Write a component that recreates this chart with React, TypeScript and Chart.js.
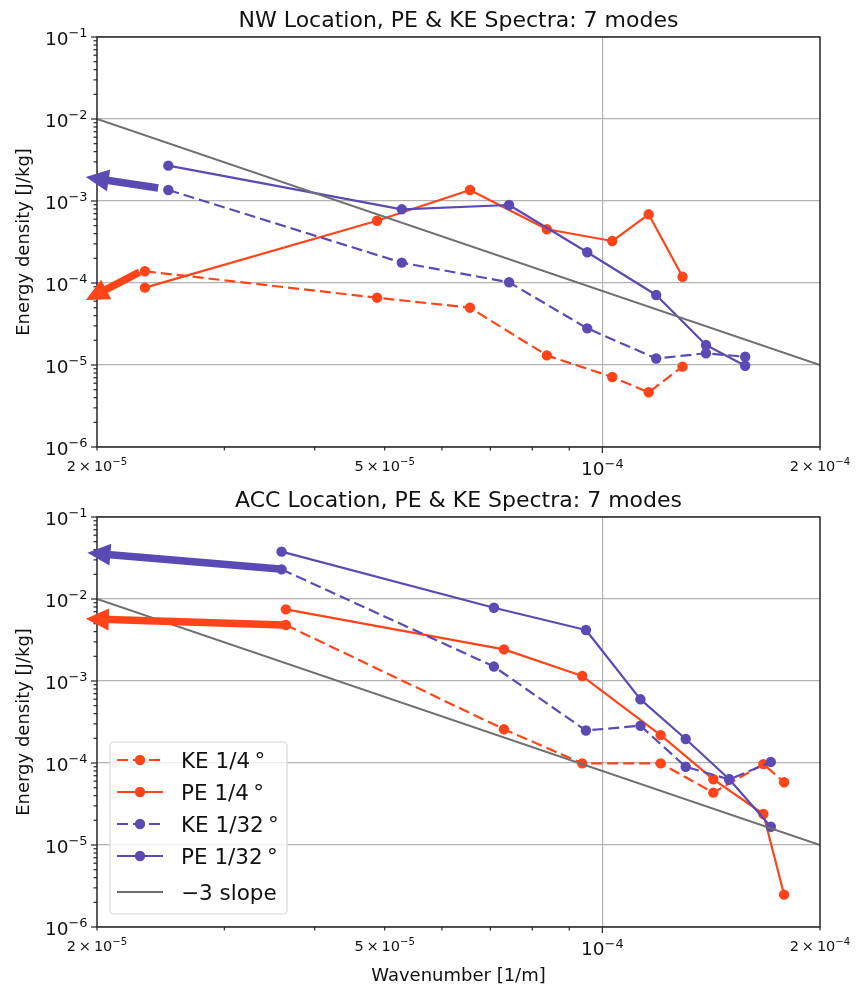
import React, { useEffect, useRef } from 'react';
import { Chart, registerables } from 'chart.js';
Chart.register(...registerables);

const FONT = '"DejaVu Sans", "Liberation Sans", sans-serif';
const ORANGE = '#FF4419';
const PURPLE = '#5A4AB4';
const GRAY = '#6F6F6F';

// ---- tick definitions ----
const xTickValues = [2e-5, 3e-5, 4e-5, 5e-5, 6e-5, 7e-5, 8e-5, 9e-5, 1e-4, 2e-4];
const xMajorTicks = [1e-4];
const xLabelValues = [2e-5, 5e-5, 1e-4, 2e-4];
const xLabelBases = ['2\u2009×\u200910', '5\u2009×\u200910', '10', '2\u2009×\u200910'];
const xLabelExps = ['−5', '−5', '−4', '−4'];
const xLabelMajor = [false, false, true, false];
const yMajorTicks = [1e-6, 1e-5, 1e-4, 1e-3, 1e-2, 1e-1];
const yLabelBases = ['10', '10', '10', '10', '10', '10'];
const yLabelExps = ['−6', '−5', '−4', '−3', '−2', '−1'];
const yMinorMultipliers = [2, 3, 4, 5, 6, 7, 8, 9];

// ---- legend labels ----
const seriesLabels = ['KE 1/4\u2009°', 'PE 1/4\u2009°', 'KE 1/32\u2009°', 'PE 1/32\u2009°', '−3 slope'];

// ---- -3 slope reference ----
const slopeX = [2e-5, 2e-4];
const slopeY = [1e-2, 1e-5];

// ---- NW location ----
const nwX14 = [2.33e-5, 4.88e-5, 6.56e-5, 8.38e-5, 1.032e-4, 1.159e-4, 1.291e-4];
const nwKE14 = [1.39e-4, 6.62e-5, 5.0e-5, 1.31e-5, 7.14e-6, 4.65e-6, 9.55e-6];
const nwPE14 = [8.77e-5, 5.75e-4, 1.36e-3, 4.52e-4, 3.25e-4, 6.88e-4, 1.19e-4];
const nwX132 = [2.51e-5, 5.28e-5, 7.43e-5, 9.53e-5, 1.187e-4, 1.391e-4, 1.576e-4];
const nwKE132 = [1.36e-3, 1.77e-4, 1.02e-4, 2.8e-5, 1.2e-5, 1.39e-5, 1.26e-5];
const nwPE132 = [2.7e-3, 7.92e-4, 8.94e-4, 2.37e-4, 7.14e-5, 1.75e-5, 9.8e-6];
const nwArrowTails = [[2.43e-5, 1.44e-3], [2.29e-5, 1.36e-4]];
const nwArrowTips = [[1.93e-5, 1.96e-3], [1.93e-5, 6.2e-5]];

// ---- ACC location ----
const accX14 = [3.65e-5, 7.31e-5, 9.38e-5, 1.204e-4, 1.424e-4, 1.67e-4, 1.784e-4];
const accKE14 = [4.82e-3, 2.58e-4, 9.9e-5, 9.9e-5, 4.35e-5, 9.7e-5, 5.82e-5];
const accPE14 = [7.48e-3, 2.43e-3, 1.15e-3, 2.19e-4, 6.33e-5, 2.39e-5, 2.48e-6];
const accX132 = [3.6e-5, 7.08e-5, 9.49e-5, 1.129e-4, 1.304e-4, 1.498e-4, 1.71e-4];
const accKE132 = [2.3e-2, 1.5e-3, 2.49e-4, 2.85e-4, 9.0e-5, 6.3e-5, 1.03e-4];
const accPE132 = [3.78e-2, 7.83e-3, 4.19e-3, 5.98e-4, 1.96e-4, 6.33e-5, 1.67e-5];
const accArrowTails = [[3.58e-5, 2.32e-2], [3.62e-5, 4.82e-3]];
const accArrowTips = [[1.94e-5, 3.67e-2], [1.93e-5, 5.75e-3]];

const arrowColors = [PURPLE, ORANGE];

const SUP = 0.4;

function pts(xs: number[], ys: number[]) {
  return xs.map((x, i) => ({ x, y: ys[i] }));
}

function series(label: string, data: any[], color: string, dashed: boolean, order: number) {
  return {
    label,
    data,
    borderColor: color,
    backgroundColor: color,
    borderWidth: 2.2,
    borderDash: dashed ? [11, 5] : [],
    borderJoinStyle: 'round',
    pointRadius: 5.2,
    pointHoverRadius: 5.2,
    pointBackgroundColor: color,
    pointBorderWidth: 0,
    tension: 0,
    order,
  };
}

function drawSci(ctx: CanvasRenderingContext2D, base: string, exp: string, x: number, y: number, size: number, align: string) {
  ctx.font = `${size}px ${FONT}`;
  const w1 = ctx.measureText(base).width;
  const ss = size * 0.7;
  ctx.font = `${ss}px ${FONT}`;
  const w2 = ctx.measureText(exp).width;
  const total = w1 + w2;
  const x0 = align === 'right' ? x - total : x - total / 2;
  ctx.textAlign = 'left';
  ctx.textBaseline = 'alphabetic';
  ctx.fillStyle = '#111';
  ctx.font = `${size}px ${FONT}`;
  ctx.fillText(base, x0, y);
  ctx.font = `${ss}px ${FONT}`;
  ctx.fillText(exp, x0 + w1, y - size * SUP);
}

function drawArrow(ctx: CanvasRenderingContext2D, x0: number, y0: number, x1: number, y1: number, color: string) {
  const dx = x1 - x0, dy = y1 - y0;
  const L = Math.hypot(dx, dy);
  const ux = dx / L, uy = dy / L;
  const nx = -uy, ny = ux;
  const w = 7.5, hw = 22, hl = 23;
  const bx = x1 - ux * hl, by = y1 - uy * hl;
  ctx.beginPath();
  ctx.moveTo(x0 + nx * w / 2, y0 + ny * w / 2);
  ctx.lineTo(bx + nx * w / 2, by + ny * w / 2);
  ctx.lineTo(bx + nx * hw / 2, by + ny * hw / 2);
  ctx.lineTo(x1, y1);
  ctx.lineTo(bx - nx * hw / 2, by - ny * hw / 2);
  ctx.lineTo(bx - nx * w / 2, by - ny * w / 2);
  ctx.lineTo(x0 - nx * w / 2, y0 - ny * w / 2);
  ctx.closePath();
  ctx.fillStyle = color;
  ctx.fill();
}

function makeDecor(opts: { title: string; tails: number[][]; tips: number[][]; legend: boolean; xTitle: boolean }) {
  return {
    id: 'decor',
    afterDraw(chart: any) {
      const ctx: CanvasRenderingContext2D = chart.ctx;
      const a = chart.chartArea;
      const xs = chart.scales.x;
      const ys = chart.scales.y;
      ctx.save();
      // frame
      ctx.strokeStyle = '#262626';
      ctx.lineWidth = 1.5;
      ctx.strokeRect(a.left, a.top, a.right - a.left, a.bottom - a.top);
      // ticks
      ctx.lineWidth = 1.2;
      for (const t of ys.ticks) {
        const py = ys.getPixelForValue(t.value);
        const len = t.major ? 6 : 3.5;
        ctx.beginPath();
        ctx.moveTo(a.left - len, py);
        ctx.lineTo(a.left, py);
        ctx.stroke();
      }
      for (const t of xs.ticks) {
        const px = xs.getPixelForValue(t.value);
        const len = t.major ? 6 : 3.5;
        ctx.beginPath();
        ctx.moveTo(px, a.bottom);
        ctx.lineTo(px, a.bottom + len);
        ctx.stroke();
      }
      // y labels
      yMajorTicks.forEach((v, i) => {
        const py = ys.getPixelForValue(v);
        drawSci(ctx, yLabelBases[i], yLabelExps[i], a.left - 9.5, py + 7.5, 18.5, 'right');
      });
      // x labels
      xLabelValues.forEach((v, i) => {
        const px = xs.getPixelForValue(v);
        if (xLabelMajor[i]) drawSci(ctx, xLabelBases[i], xLabelExps[i], px, a.bottom + 28, 18.5, 'center');
        else drawSci(ctx, xLabelBases[i], xLabelExps[i], px, a.bottom + 24, 14.5, 'center');
      });
      // title
      ctx.fillStyle = '#111';
      ctx.font = `22px ${FONT}`;
      ctx.textAlign = 'center';
      ctx.textBaseline = 'alphabetic';
      ctx.fillText(opts.title, (a.left + a.right) / 2, a.top - 10.5);
      // y axis title
      ctx.save();
      ctx.translate(24, (a.top + a.bottom) / 2);
      ctx.rotate(-Math.PI / 2);
      ctx.font = `18px ${FONT}`;
      ctx.textAlign = 'center';
      ctx.textBaseline = 'middle';
      ctx.fillText('Energy density [J/kg]', 0, 0);
      ctx.restore();
      if (opts.xTitle) {
        ctx.font = `18px ${FONT}`;
        ctx.textAlign = 'center';
        ctx.textBaseline = 'alphabetic';
        ctx.fillText('Wavenumber [1/m]', (a.left + a.right) / 2, a.bottom + 54);
      }
      // arrows
      opts.tails.forEach((t, i) => {
        const tip = opts.tips[i];
        drawArrow(ctx, xs.getPixelForValue(t[0]), ys.getPixelForValue(t[1]), xs.getPixelForValue(tip[0]), ys.getPixelForValue(tip[1]), arrowColors[i]);
      });
      // legend
      if (opts.legend) {
        const bw = 177, bh = 172;
        const bx = a.left + 13, by = a.bottom - 13 - bh;
        ctx.beginPath();
        const r = 4;
        ctx.moveTo(bx + r, by);
        ctx.arcTo(bx + bw, by, bx + bw, by + bh, r);
        ctx.arcTo(bx + bw, by + bh, bx, by + bh, r);
        ctx.arcTo(bx, by + bh, bx, by, r);
        ctx.arcTo(bx, by, bx + bw, by, r);
        ctx.closePath();
        ctx.fillStyle = 'rgba(255,255,255,0.8)';
        ctx.fill();
        ctx.strokeStyle = '#d6d6d6';
        ctx.lineWidth = 1.2;
        ctx.stroke();
        const rows = [18, 50, 82, 114, 150];
        const dsList = chart.data.datasets;
        dsList.forEach((ds: any, i: number) => {
          const cy = by + rows[i];
          ctx.strokeStyle = ds.borderColor;
          ctx.lineWidth = 2.2;
          ctx.setLineDash(ds.borderDash || []);
          ctx.beginPath();
          ctx.moveTo(bx + 7, cy);
          ctx.lineTo(bx + 53, cy);
          ctx.stroke();
          ctx.setLineDash([]);
          if (ds.pointRadius > 0) {
            ctx.beginPath();
            ctx.arc(bx + 30, cy, 5.2, 0, Math.PI * 2);
            ctx.fillStyle = ds.borderColor;
            ctx.fill();
          }
          ctx.fillStyle = '#111';
          ctx.font = `21.5px ${FONT}`;
          ctx.textAlign = 'left';
          ctx.textBaseline = 'alphabetic';
          ctx.fillText(ds.label, bx + 71, cy + 7.8);
        });
      }
      ctx.restore();
    },
  };
}

function buildConfig(o: {
  x14: number[]; ke14: number[]; pe14: number[]; x132: number[]; ke132: number[]; pe132: number[];
  title: string; tails: number[][]; tips: number[][]; legend: boolean; xTitle: boolean;
  top: number; xAxisH: number;
}) {
  const yTicks: any[] = [];
  yMajorTicks.forEach((v, i) => {
    yTicks.push({ value: v, major: true });
    if (i < yMajorTicks.length - 1) yMinorMultipliers.forEach((k) => yTicks.push({ value: k * v, major: false }));
  });
  const xTicks = xTickValues.map((v) => ({ value: v, major: xMajorTicks.includes(v) }));
  const gridColor = (c: any) => (c.tick && c.tick.major ? '#b3b3b3' : 'rgba(0,0,0,0)');
  return {
    type: 'line',
    data: {
      datasets: [
        series(seriesLabels[0], pts(o.x14, o.ke14), ORANGE, true, 4),
        series(seriesLabels[1], pts(o.x14, o.pe14), ORANGE, false, 3),
        series(seriesLabels[2], pts(o.x132, o.ke132), PURPLE, true, 2),
        series(seriesLabels[3], pts(o.x132, o.pe132), PURPLE, false, 1),
        {
          label: seriesLabels[4],
          data: pts(slopeX, slopeY),
          borderColor: GRAY,
          backgroundColor: GRAY,
          borderWidth: 2,
          borderDash: [],
          pointRadius: 0,
          pointHoverRadius: 0,
          tension: 0,
          order: 0,
        },
      ],
    },
    options: {
      animation: false,
      responsive: false,
      events: [],
      layout: { padding: { left: 0, right: 38, top: o.top, bottom: 0 } },
      plugins: { legend: { display: false }, title: { display: false }, tooltip: { enabled: false } },
      scales: {
        x: {
          type: 'logarithmic',
          min: 2e-5,
          max: 2e-4,
          afterBuildTicks: (s: any) => { s.ticks = xTicks.map((t) => ({ ...t })); },
          afterFit: (s: any) => { s.height = o.xAxisH; },
          ticks: { display: false, autoSkip: false },
          grid: { color: gridColor, lineWidth: 1.2, drawTicks: false },
          border: { display: false },
        },
        y: {
          type: 'logarithmic',
          min: 1e-6,
          max: 1e-1,
          afterBuildTicks: (s: any) => { s.ticks = yTicks.map((t) => ({ ...t })); },
          afterFit: (s: any) => { s.width = 97; },
          ticks: { display: false, autoSkip: false },
          grid: { color: gridColor, lineWidth: 1.2, drawTicks: false },
          border: { display: false },
        },
      },
    },
    plugins: [makeDecor({ title: o.title, tails: o.tails, tips: o.tips, legend: o.legend, xTitle: o.xTitle })],
  };
}

export default function App() {
  const topRef = useRef<HTMLCanvasElement>(null);
  const botRef = useRef<HTMLCanvasElement>(null);
  useEffect(() => {
    const c1 = new Chart(topRef.current as HTMLCanvasElement, buildConfig({
      x14: nwX14, ke14: nwKE14, pe14: nwPE14, x132: nwX132, ke132: nwKE132, pe132: nwPE132,
      title: 'NW Location, PE & KE Spectra: 7 modes', tails: nwArrowTails, tips: nwArrowTips,
      legend: false, xTitle: false, top: 37, xAxisH: 33,
    }) as any);
    const c2 = new Chart(botRef.current as HTMLCanvasElement, buildConfig({
      x14: accX14, ke14: accKE14, pe14: accPE14, x132: accX132, ke132: accKE132, pe132: accPE132,
      title: 'ACC Location, PE & KE Spectra: 7 modes', tails: accArrowTails, tips: accArrowTips,
      legend: true, xTitle: true, top: 37, xAxisH: 59,
    }) as any);
    return () => { c1.destroy(); c2.destroy(); };
  }, []);
  return (
    <div style={{ position: 'absolute', left: 0, top: 0, width: 858, height: 986, background: '#fff' }}>
      <canvas ref={topRef} width={858} height={480} style={{ display: 'block', width: 858, height: 480 }} />
      <canvas ref={botRef} width={858} height={506} style={{ display: 'block', width: 858, height: 506 }} />
    </div>
  );
}
